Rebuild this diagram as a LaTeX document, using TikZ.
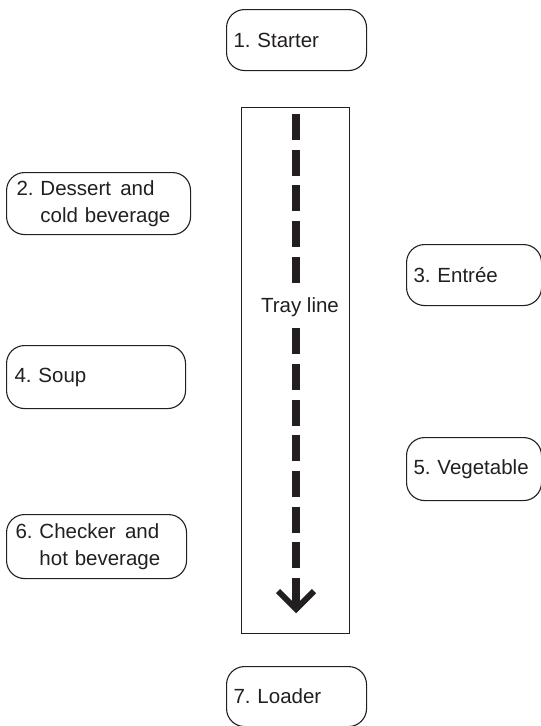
\documentclass[tikz,border=0pt]{standalone}
\usepackage{fontspec}
\setmainfont{Liberation Sans}
\definecolor{ink}{RGB}{35,31,32}
\frenchspacing
\begin{document}
\begin{tikzpicture}[x=1pt,y=-1pt,
  menubox/.style={draw=ink, line width=1.1pt, rounded corners=18pt, anchor=north west,
    align=left, inner ysep=0pt, text=ink,
    font=\fontsize{20.5}{27}\selectfont\frenchspacing},
  dashline/.style={draw=ink, line width=8pt, dash pattern=on 26pt off 9.7pt},
  arrowline/.style={draw=ink, line width=8pt},
  chevron/.style={draw=ink, line width=6pt, miter limit=10}
]
\path[use as bounding box] (0,0) rectangle (541,726);

% tray frame
\node[draw=ink, line width=1.1pt, anchor=north west, minimum width=108pt, minimum height=526pt, inner sep=0pt] (tray) at (241,107) {};

% stations
\node[menubox, inner xsep=7pt, text width=126pt, minimum height=61pt] (starter) at (226,9) {1. Starter};
\node[menubox, inner xsep=10pt, text width=164pt, minimum height=62pt] (dessert) at (6,172) {2. Dessert\hspace{0.45em}and\\\phantom{2. }cold beverage};
\node[menubox, inner xsep=7pt, text width=121pt, minimum height=61pt] (entree) at (406,244) {3. Entrée};
\node[menubox, inner xsep=8pt, text width=163pt, minimum height=63pt] (soup) at (6,345) {4. Soup};
\node[menubox, inner xsep=7pt, text width=121pt, minimum height=63pt] (vegetable) at (406,437) {5. Vegetable};
\node[menubox, inner xsep=9pt, text width=162pt, minimum height=64pt] (checker) at (6,514) {6. Checker\hspace{0.45em}and\\\phantom{6. }hot beverage};
\node[menubox, inner xsep=7pt, text width=126pt, minimum height=60pt] (loader) at (226,666) {7. Loader};

% tray line label
\node[text=ink, font=\fontsize{20.5}{24}\selectfont, inner sep=0pt] (traylabel) at (300,307) {Tray line};

% dashed flow
\coordinate (d1a) at (296,114);
\coordinate (d1b) at (296,284);
\coordinate (d2a) at (296,328.2);
\coordinate (d2b) at (296,569);
\coordinate (s1) at (296,578);
\coordinate (s2) at (296,606);
\coordinate (cl) at (278,591);
\coordinate (ct) at (296,609);
\coordinate (cr) at (314,591);
\path[dashline] (d1a) -- (d1b);
\path[dashline] (d2a) -- (d2b);
\path[arrowline] (s1) -- (s2);
\path[chevron] (cl) -- (ct) -- (cr);
\end{tikzpicture}
\end{document}
